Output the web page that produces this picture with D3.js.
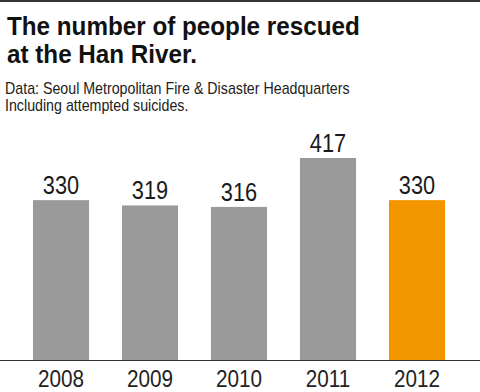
<!DOCTYPE html>
<html>
<head>
<meta charset="utf-8">
<script src="https://cdn.jsdelivr.net/npm/d3@7"></script>
<style>
  body { margin: 0; background: #fff; }
  svg { display: block; }
</style>
</head>
<body>
<div id="chart"></div>
<script>
var years = ['2008', '2009', '2010', '2011', '2012'];
var rescued = [330, 319, 316, 417, 330];
var barColors = ['#9a9a9a', '#9a9a9a', '#9a9a9a', '#9a9a9a', '#f29600'];
var titleLines = ['The number of people rescued', 'at the Han River.'];
var noteLines = ['Data: Seoul Metropolitan Fire & Disaster Headquarters', 'Including attempted suicides.'];

var W = 480, H = 392;
var font = '"Liberation Sans", Arial, sans-serif';

var svg = d3.select('#chart').append('svg')
    .attr('width', W)
    .attr('height', H);

// top rule
svg.append('rect')
    .attr('x', 0).attr('y', 0)
    .attr('width', W).attr('height', 2)
    .style('fill', '#333');

// title (the original face is a bit narrower, so squeeze horizontally)
svg.selectAll('text.title')
    .data(titleLines)
    .enter().append('text')
    .attr('class', 'title')
    .attr('transform', function(d, i) { return 'translate(7,' + (35 + i * 28) + ') scale(0.97,1)'; })
    .style('font-family', font)
    .style('font-size', '25px')
    .style('font-weight', 'bold')
    .style('fill', '#111')
    .text(function(d) { return d; });

// source notes
svg.selectAll('text.note')
    .data(noteLines)
    .enter().append('text')
    .attr('class', 'note')
    .attr('transform', function(d, i) { return 'translate(5,' + (94 + i * 17) + ') scale(0.89,1)'; })
    .style('font-family', font)
    .style('font-size', '16px')
    .style('fill', '#222')
    .text(function(d) { return d; });

var x = d3.scaleBand()
    .domain(years)
    .range([16.5, 461.5])
    .paddingInner(0.37)
    .paddingOuter(0.185);

var y = d3.scaleLinear()
    .domain([0, 417])
    .range([360, 158]);

var data = years.map(function(yr, i) {
    return { year: yr, value: rescued[i], color: barColors[i] };
});

svg.selectAll('rect.bar')
    .data(data)
    .enter().append('rect')
    .attr('class', 'bar')
    .attr('x', function(d) { return x(d.year); })
    .attr('y', function(d) { return y(d.value); })
    .attr('width', x.bandwidth())
    .attr('height', function(d) { return y(0) - y(d.value); })
    .style('fill', function(d) { return d.color; });

svg.selectAll('text.val')
    .data(data)
    .enter().append('text')
    .attr('class', 'val')
    .attr('transform', function(d) {
        return 'translate(' + (x(d.year) + x.bandwidth() / 2) + ',' + (y(d.value) - 6) + ') scale(0.87,1)';
    })
    .attr('text-anchor', 'middle')
    .style('font-family', font)
    .style('font-size', '25px')
    .style('fill', '#1a1a1a')
    .text(function(d) { return d.value; });

// baseline + year labels
var axis = svg.append('g')
    .attr('transform', 'translate(0,360)')
    .call(d3.axisBottom(x).tickSize(0).tickPadding(11));
axis.select('.domain').remove();
axis.append('line')
    .attr('x1', 0).attr('x2', W)
    .attr('y1', 0.5).attr('y2', 0.5)
    .style('stroke', '#333');
axis.selectAll('.tick text')
    .attr('dy', '0.71em')
    .attr('transform', 'scale(0.9,1)')
    .style('font-family', font)
    .style('font-size', '23px')
    .style('fill', '#222');
</script>
</body>
</html>
